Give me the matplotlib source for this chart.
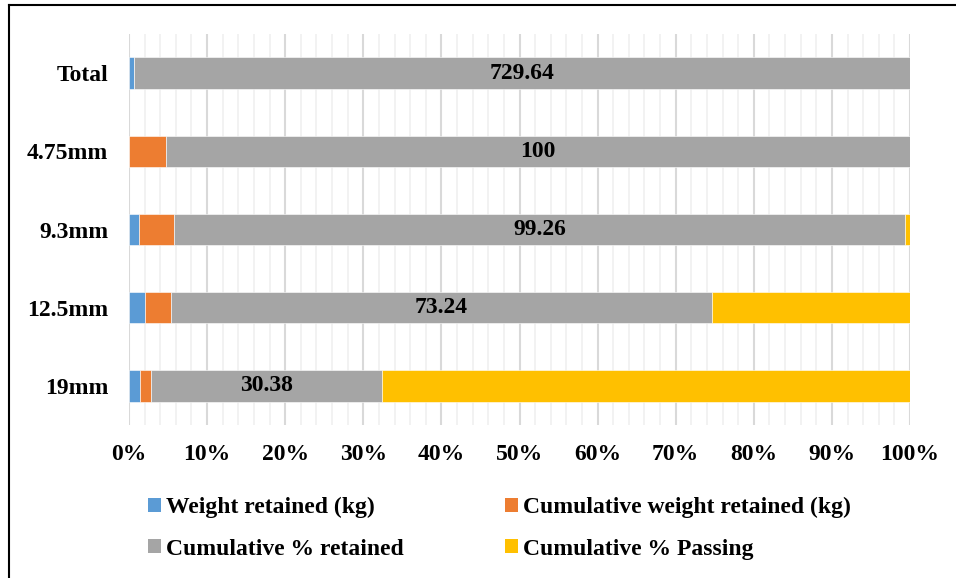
import matplotlib.pyplot as plt
import numpy as np
from matplotlib.lines import Line2D
from matplotlib.patches import Patch
from matplotlib.ticker import MultipleLocator, PercentFormatter

# Sieve analysis, one row per sieve plus the total row
sieves = ["19mm", "12.5mm", "9.3mm", "4.75mm", "Total"]
weight_retained = [1.47, 2.10, 1.30, 0.04, 4.91]
cum_weight_retained = [1.47, 3.57, 4.87, 4.91, 0.0]
cum_pct_retained = [30.38, 73.24, 99.26, 100.0, 729.64]
cum_pct_passing = [69.62, 26.76, 0.74, 0.0, 0.0]

series_names = [
    "Weight retained (kg)",
    "Cumulative weight retained (kg)",
    "Cumulative % retained",
    "Cumulative % Passing",
]
COLORS = ["#5B9BD5", "#ED7D31", "#A5A5A5", "#FFC000"]
FONT = "Liberation Serif"
FONTSIZE = 17

plt.rcParams["font.family"] = FONT
plt.rcParams["font.weight"] = "bold"

W, H = 956, 578
fig = plt.figure(figsize=(W / 100, H / 100), dpi=100)
ax = fig.add_axes([129 / W, 1 - 425 / H, 781 / W, 391 / H])

data = np.array([weight_retained, cum_weight_retained, cum_pct_retained, cum_pct_passing])
shares = data / data.sum(axis=0) * 100

y = np.arange(len(sieves))
left = np.zeros(len(sieves))
containers = []
for i, name in enumerate(series_names):
    bars = ax.barh(
        y, shares[i], left=left, height=0.4, color=COLORS[i],
        edgecolor="white", linewidth=0.4, label=name, zorder=3,
    )
    containers.append(bars)
    left += shares[i]

# values are only printed on the cumulative % retained segments
ax.bar_label(
    containers[2], labels=["%g" % v for v in cum_pct_retained],
    label_type="center", fontsize=FONTSIZE, fontweight="bold", zorder=4,
)

ax.set_xlim(0, 100)
ax.set_ylim(-0.5, len(sieves) - 0.5)
ax.set_yticks(y)
ax.set_yticklabels(sieves)
ax.xaxis.set_major_locator(MultipleLocator(10))
ax.xaxis.set_minor_locator(MultipleLocator(2))
ax.xaxis.set_major_formatter(PercentFormatter(decimals=0))
ax.grid(axis="x", which="major", color="#D9D9D9", linewidth=1.5, zorder=0)
ax.grid(axis="x", which="minor", color="#F0F0F0", linewidth=1.2, zorder=0)
ax.tick_params(axis="both", which="both", length=0, labelsize=FONTSIZE)
ax.tick_params(axis="y", pad=15)
ax.tick_params(axis="x", pad=14)
for side in ["top", "right", "bottom", "left"]:
    ax.spines[side].set_visible(False)

# legend is filled column by column, so reorder to read row by row
order = [0, 2, 1, 3]
handles = [Patch(facecolor=COLORS[i], edgecolor="none") for i in order]
labels = [series_names[i] for i in order]
fig.legend(
    handles, labels, ncol=2, loc="upper left",
    bbox_to_anchor=(127 / W, 1 - 476 / H), frameon=False,
    fontsize=FONTSIZE, handlelength=0.55, handleheight=0.55,
    handletextpad=0.2, columnspacing=4.3, labelspacing=0.85,
)

# outer frame, only the top and left edges are inside the image
fig.add_artist(Line2D([9 / W, 9 / W], [0, 1 - 5 / H], color="black", linewidth=1.5))
fig.add_artist(Line2D([9 / W, 1], [1 - 5 / H, 1 - 5 / H], color="black", linewidth=1.5))

plt.savefig("out.png", dpi=100)
plt.close()
